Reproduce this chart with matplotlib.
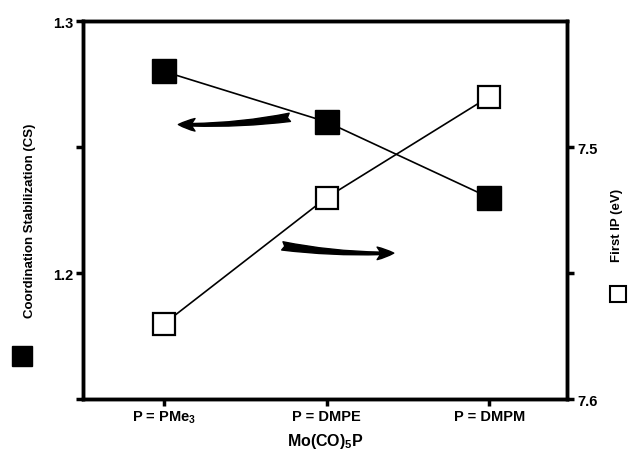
import numpy as np
import matplotlib
matplotlib.use('Agg')
from matplotlib import pyplot as plt

plt.rcParams['font.family'] = ['Liberation Sans', 'DejaVu Sans']
plt.rcParams['font.weight'] = 'bold'
plt.rcParams['mathtext.default'] = 'regular'

ligands = ['P = PMe$_3$', 'P = DMPE', 'P = DMPM']
cs = [1.280, 1.260, 1.230]
first_ip = [7.570, 7.520, 7.480]

x = np.arange(len(ligands))

fig = plt.figure(figsize=(6.38, 4.6), dpi=100)
ax = fig.add_axes([0.130, 0.130, 0.759, 0.822])
ax2 = ax.twinx()

ax.plot(x, cs, color='black', lw=1.2, marker='s', ms=17,
        mfc='black', mec='black', zorder=3)
ax2.plot(x, first_ip, color='black', lw=1.2, marker='s', ms=16,
         mfc='white', mec='black', mew=1.6, zorder=3)

ax.set_xlim(-0.5, 2.48)
ax.set_ylim(1.15, 1.30)
ax2.set_ylim(7.60, 7.45)

ax.set_xticks(x)
ax.set_xticklabels(ligands, fontsize=10.5, fontweight='bold')
ax.set_yticks([1.15, 1.2, 1.25, 1.3])
ax.set_yticklabels(['', '1.2', '', '1.3'], fontsize=10.5, fontweight='bold')
ax2.set_yticks([7.5, 7.55, 7.6])
ax2.set_yticklabels(['7.5', '', '7.6'], fontsize=10.5, fontweight='bold')

for a in (ax, ax2):
    for s in a.spines.values():
        s.set_linewidth(2.5)
    a.tick_params(width=2.5, length=5, direction='out', pad=2)

ax.set_xlabel('Mo(CO)$_5$P', fontsize=11.5, fontweight='bold', labelpad=4)

# curved arrows pointing to the axis each curve belongs to
astyle = 'fancy,head_length=1.2,head_width=0.9,tail_width=0.6'
ax.annotate('', xy=(0.07, 1.259), xytext=(0.79, 1.262),
            arrowprops=dict(arrowstyle=astyle, connectionstyle='arc3,rad=-0.05',
                            color='black'))
ax.annotate('', xy=(1.43, 1.208), xytext=(0.71, 1.211),
            arrowprops=dict(arrowstyle=astyle, connectionstyle='arc3,rad=0.05',
                            color='black'))

# axis titles with their marker keys
fig.text(0.047, 0.52, 'Coordination Stabilization (CS)', rotation=90,
         ha='center', va='center', fontsize=9.5, fontweight='bold')
fig.lines.append(plt.Line2D([0.035], [1 - 357 / 460], marker='s', ms=15,
                            color='black', transform=fig.transFigure))
fig.text(0.967, 0.51, 'First IP (eV)', rotation=90,
         ha='center', va='center', fontsize=9.5, fontweight='bold')
fig.lines.append(plt.Line2D([0.969], [1 - 295 / 460], marker='s', ms=12,
                            mfc='white', mec='black', mew=1.5,
                            transform=fig.transFigure))

fig.savefig('out.png', dpi=100)
